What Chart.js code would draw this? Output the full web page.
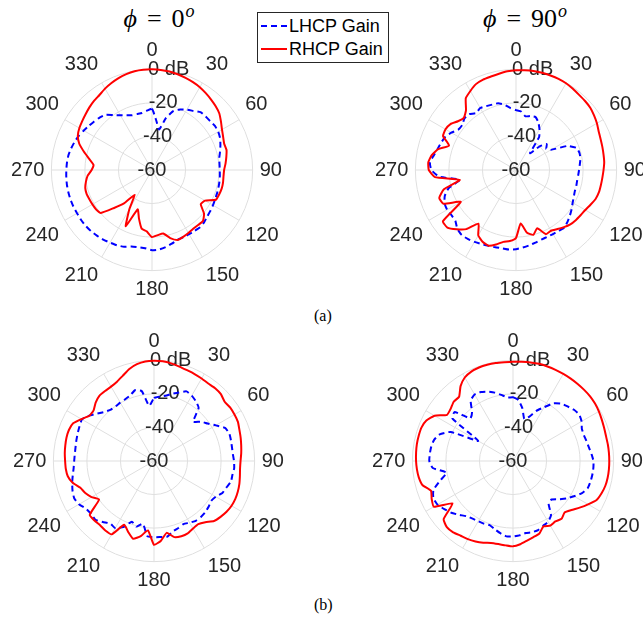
<!DOCTYPE html>
<html>
<head>
<meta charset="utf-8">
<script src="https://cdn.jsdelivr.net/npm/chart.js@4.4.0/dist/chart.umd.min.js"></script>
<style>
  html, body { margin:0; padding:0; background:#fff; }
  #page { position:relative; width:643px; height:621px; overflow:hidden; }
  canvas.polar { position:absolute; }
  .ttl { position:absolute; font-family:'Liberation Serif','Times New Roman',serif; font-size:26px; line-height:26px; color:#000; white-space:nowrap; transform:translateX(-50%); }
  .ttl .eq { margin:0 10px; }
  .ttl sup { font-size:18px; vertical-align:10px; line-height:0; margin-left:1px; }
  .cap { position:absolute; font-family:'Liberation Serif','Times New Roman',serif; font-size:16px; line-height:16px; color:#000; }
  #legend { position:absolute; left:257px; top:12px; width:130px; height:49px; border:1px solid #262626; background:#fff; z-index:2;
            font-family:'Liberation Sans',Arial,sans-serif; font-size:18px; color:#000; }
  #legend .row { position:absolute; left:0; height:22px; line-height:22px; }
  #legend .smp { position:absolute; left:3px; width:26px; top:10px; height:0; }
  #legend .txt { position:absolute; left:31px; top:0; white-space:nowrap; }
</style>
</head>
<body>
<div id="page">
  <div class="ttl" style="left:159px; top:6px;"><i>ϕ</i><span class="eq">=</span>0<sup><i>o</i></sup></div>
  <div class="ttl" style="left:525px; top:6px;"><i>ϕ</i><span class="eq">=</span>90<sup><i>o</i></sup></div>
  <div id="legend">
    <div class="row" style="top:2px;"><div class="smp" style="border-top:2px dashed #0000ff;"></div><span class="txt">LHCP Gain</span></div>
    <div class="row" style="top:25px;"><div class="smp" style="border-top:2px solid #ff0000;"></div><span class="txt">RHCP Gain</span></div>
  </div>
  <div class="cap" style="left:314px; top:308px;">(a)</div>
  <div class="cap" style="left:314px; top:597px;">(b)</div>
</div>
<script>
// angles every 5 deg, clockwise from top
const angleLabels = ['0','5','10','15','20','25','30','35','40','45','50','55','60','65','70','75','80','85','90','95','100','105','110','115',
  '120','125','130','135','140','145','150','155','160','165','170','175','180','185','190','195','200','205','210','215','220','225','230','235',
  '240','245','250','255','260','265','270','275','280','285','290','295','300','305','310','315','320','325','330','335','340','345','350','355'];

const tickValues = [-60, -40, -20, 0];
const tickLabels = ['-60', '  -40', '    -20', '      0 dB'];

// (a) phi = 0
const lhcpA0 = [-23.5,-30.5,-35.5,-28,-22.5,-20.2,-18.5,-17,-15,-14.8,-14.7,-14.2,
  -14.4,-15.2,-16.6,-18,-19.3,-19.6,-19.6,-19.4,-19.2,-19,-18.8,-18.5,
  -18,-17.5,-17,-16,-15.5,-15.7,-15.8,-15.8,-15.7,-14.5,-13.3,-12.4,
  -12.2,-13.2,-13.3,-12.8,-11.3,-10.5,-10,-9.3,-8.9,-8.5,-8.3,-8.3,
  -8.4,-8.3,-8.3,-8.4,-8.5,-8.7,-8.9,-9.1,-9.4,-10.1,-10.9,-11.8,
  -13,-14.1,-15,-15.8,-17,-20,-22.3,-24,-25.3,-25.5,-25.5,-24.5];
const rhcpA0 = [0,-0.1,-0.4,-0.9,-1.5,-2.2,-3,-4.1,-5.2,-6.3,-7.6,-9.8,
  -11.8,-13.2,-14.2,-14,-15,-16,-17,-17.2,-17,-17,-17.4,-18,
  -23.5,-24.5,-19.5,-17,-17.2,-17.2,-16.6,-16,-15.6,-18,-21.5,-21,
  -20,-23.3,-24.5,-30,-35,-23,-33,-42,-34,-28,-20.2,-19.2,
  -19,-18.8,-18.5,-18.8,-20,-21.5,-24,-25,-22,-18,-13.8,-11.2,
  -10,-9.2,-8.3,-7.2,-6.2,-5.4,-4,-2.8,-1.7,-0.8,-0.2,0];

// (a) phi = 90
const lhcpA90 = [-24.3,-25,-27.5,-26.7,-26.3,-28.5,-32,-36,-47,-40,-36,-38,
  -36,-26,-21.5,-20.8,-21,-21.8,-22.4,-22.8,-23,-22.8,-22.7,-22,
  -21,-19.5,-18,-16.5,-15.2,-15.7,-15.9,-16,-15.8,-15.2,-14.4,-13.6,
  -12.8,-12.4,-12.6,-12.3,-11.9,-11.3,-10.5,-9.8,-9.5,-10.5,-12.8,-13,
  -12.6,-13,-14.8,-18.5,-26,-14,-9.5,-8.5,-10.2,-11.6,-12.5,-13.4,
  -15.5,-18,-18.2,-16.5,-16.5,-18.6,-17.3,-18,-18.5,-18.8,-20.5,-23];
const rhcpA90 = [-0.5,-0.3,0,0,0,0,-0.3,-0.9,-1.5,-1.8,-2.2,-3.2,
  -4.3,-5.6,-6.3,-6.7,-7,-7.2,-7.8,-8.3,-8.6,-8.8,-9.5,-11,
  -12.3,-13,-13.5,-14.2,-15.5,-17,-18.2,-17.8,-23,-20,-22,-28,
  -19.5,-17.5,-16.5,-14,-12,-12.8,-15,-21,-14,-10,-6.6,-6.8,
  -22,-12.3,-11.3,-15.5,-26,-11.5,-8,-7.5,-9,-12,-17.5,-12,
  -11.5,-12.3,-14.8,-16,-13.6,-7.8,-5.6,-3.5,-2.6,-2.3,-1.7,-0.9];

// (b) phi = 0
const lhcpB0 = [-22.5,-21.5,-20.5,-18.5,-16.5,-14.2,-15,-16.5,-18.6,-27,-23.5,-21,
  -17.5,-13.3,-12.2,-12.5,-12.8,-12.8,-12.3,-12,-12.5,-12.5,-14,-15,
  -17.5,-18.4,-17.5,-16.8,-16.5,-16.5,-17.5,-18.5,-17.5,-16.5,-14.2,-14.5,
  -14.5,-15,-22,-19.5,-21.5,-16.5,-13.8,-14.5,-12.5,-10.5,-11,-10.5,
  -8.3,-7.5,-8.3,-9.5,-10.8,-11.9,-12.4,-12.6,-12.5,-12.1,-11.6,-11,
  -10.4,-12.8,-16,-18.5,-20,-20.2,-19.8,-19.4,-18.4,-16.3,-17.6,-27];
const rhcpB0 = [-0.2,-0.3,-0.9,-1.7,-2.4,-2.8,-3.2,-3.6,-3.3,-3.6,-5,-4.5,
  -4.6,-4.8,-5.8,-6.5,-7.2,-7.8,-8.4,-8.5,-8,-7.3,-6.8,-6.5,
  -6.6,-7.2,-8.2,-9.4,-12.4,-14,-13.5,-12.4,-12.3,-13,-16.5,-12.3,
  -10,-18.5,-14.5,-12,-15,-18,-9.5,-9.4,-10,-9.8,-10,-20,
  -17,-14.8,-13.3,-9.8,-7.8,-7.2,-7,-6.6,-6.3,-6,-6,-6.8,
  -10,-13,-13,-10.8,-9.3,-9.1,-8.8,-7.8,-5.8,-3.2,-1.4,-0.4];

// (b) phi = 90
const lhcpB90 = [-22,-23.5,-28,-34,-32,-27,-23,-18,-15.3,-14,-12.5,-11.8,
  -12.8,-14.7,-15,-14.6,-14,-13,-12,-11.9,-12,-12.2,-12.6,-14.6,
  -18,-21,-24.5,-27.5,-27,-20.5,-18.2,-17.4,-16.2,-16,-16.4,-15.5,
  -15,-14.9,-16.3,-17.9,-19.3,-18.8,-18.6,-18,-17,-14.6,-12,-10,
  -8,-7.6,-9.5,-15,-19.8,-12,-10.1,-10.2,-10.5,-11.3,-13.5,-19,
  -36,-16,-14.5,-24,-22,-16,-14.2,-14.6,-16,-17.8,-20,-22];
const rhcpB90 = [-0.8,-0.6,-0.3,0,0,0,0,0,0,0,0,-0.3,
  -0.9,-1.6,-2.2,-2.6,-2.6,-2.6,-2.6,-2.6,-2.7,-3,-3.8,-5,
  -8.3,-11.5,-14.5,-16.5,-15,-16,-15.5,-17,-14,-13,-11.8,-10.2,
  -9.1,-9.5,-9.7,-9.4,-8.2,-7.1,-6.2,-5.6,-4.5,-4.2,-6,-16,
  -5.5,-6.5,-8,-4.2,-3,-2.5,-2.2,-2,-1.8,-1.8,-1.9,-3,
  -6,-12,-11.5,-10,-10,-5.5,-2.5,-1.2,-0.7,-0.6,-0.7,-0.9];

Chart.defaults.font.family = "'Liberation Sans', Arial, sans-serif";

const gridColor = '#dfdfdf';
const textColor = '#262626';

function makePolar(left, top, lhcp, rhcp) {
  const cv = document.createElement('canvas');
  cv.className = 'polar';
  cv.width = 283; cv.height = 283;
  cv.style.left = left + 'px';
  cv.style.top = top + 'px';
  document.getElementById('page').appendChild(cv);
  return new Chart(cv.getContext('2d'), {
    type: 'radar',
    data: {
      labels: angleLabels,
      datasets: [
        { label: 'LHCP Gain', data: lhcp, borderColor: '#0000ff', borderWidth: 2, borderDash: [6, 4],
          pointRadius: 0, fill: false, tension: 0.15, order: 1 },
        { label: 'RHCP Gain', data: rhcp, borderColor: '#ff0000', borderWidth: 2,
          pointRadius: 0, fill: false, tension: 0.15, order: 0 }
      ]
    },
    options: {
      responsive: false,
      animation: false,
      events: [],
      plugins: { legend: { display: false }, tooltip: { enabled: false } },
      scales: {
        r: {
          min: -60, max: 0,
          ticks: {
            stepSize: 20, showLabelBackdrop: false, backdropPadding: 0, color: textColor, font: { size: 20 },
            callback: v => tickLabels[tickValues.indexOf(v)]
          },
          grid: { circular: true, color: gridColor, lineWidth: 1 },
          angleLines: { color: c => (c.index % 6 === 0 ? gridColor : 'rgba(0,0,0,0)'), lineWidth: 1 },
          pointLabels: {
            color: textColor, font: { size: 20 }, padding: -3,
            callback: (l, i) => (i % 6 === 0 ? l : '')
          }
        }
      }
    }
  });
}

makePolar(5, 29, lhcpA0, rhcpA0);
makePolar(369, 29, lhcpA90, rhcpA90);
makePolar(7, 320, lhcpB0, rhcpB0);
makePolar(366, 320, lhcpB90, rhcpB90);
</script>
</body>
</html>
